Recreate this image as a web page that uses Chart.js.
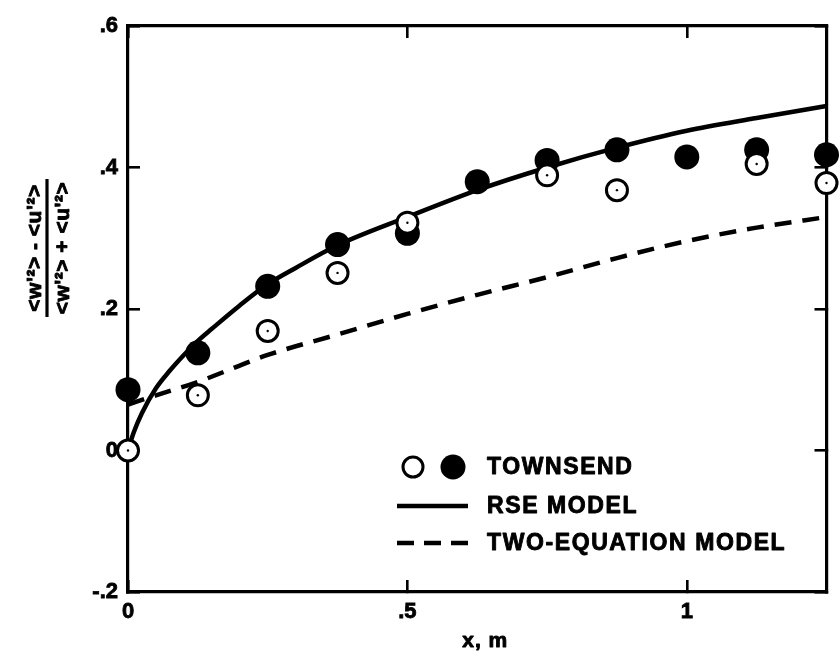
<!DOCTYPE html>
<html>
<head>
<meta charset="utf-8">
<script src="https://cdn.jsdelivr.net/npm/chart.js@4/dist/chart.umd.min.js"></script>
<style>
  html, body { margin: 0; padding: 0; background: #fff; }
  #wrap { width: 840px; height: 659px; position: relative; }
</style>
</head>
<body>
<div id="wrap"><canvas id="c" width="840" height="659"></canvas></div>
<script>
// Streamwise stations, x (m)
const stations = [0, 0.125, 0.25, 0.375, 0.5, 0.625, 0.75, 0.875, 1.0, 1.125, 1.25];
// Townsend measurements (two sets: filled and open symbols)
const townsendFilled = [0.086, 0.138, 0.232, 0.291, 0.307, 0.380, 0.410, 0.425, 0.415, 0.425, 0.418];
const townsendOpen   = [0.000, 0.078, 0.169, 0.251, 0.322, null, 0.389, 0.368, null, 0.405, 0.378];

// RSE model prediction
const rseX = [0, 0.01, 0.025, 0.05, 0.075, 0.1, 0.125, 0.15, 0.2, 0.25, 0.3, 0.375, 0.5, 0.625, 0.75, 0.875, 1.0, 1.125, 1.25];
const rseY = [0, 0.025, 0.053, 0.088, 0.113, 0.135, 0.155, 0.172, 0.205, 0.235, 0.258, 0.290, 0.330, 0.368, 0.400, 0.428, 0.452, 0.470, 0.487];

// Two-equation model prediction
const twoEqX = [0, 0.05, 0.125, 0.25, 0.375, 0.5, 0.625, 0.75, 0.875, 1.0, 1.125, 1.25];
const twoEqY = [0.065, 0.078, 0.097, 0.135, 0.164, 0.193, 0.220, 0.245, 0.272, 0.296, 0.315, 0.330];

// Axis ticks
const xTickValues = [0, 0.5, 1];
const xTickLabels = ['0', '.5', '1'];
const yTickValues = [-0.2, 0, 0.2, 0.4, 0.6];
const yTickLabels = ['-.2', '0', '.2', '.4', '.6'];

const seriesNames = ['TOWNSEND', 'RSE MODEL', 'TWO-EQUATION MODEL'];
const xTitle = 'x, m';
const yTitleTop = "<w'\u00B2> - <u'\u00B2>";
const yTitleBottom = "<w'\u00B2> + <u'\u00B2>";

const pts = (xs, ys) => xs.map((x, i) => ({ x: x, y: ys[i] })).filter(p => p.y !== null);

const FONT = '"Liberation Sans", Arial, sans-serif';
const INK = '#000';

// heavy lettering: fill plus a thin outline
function heavyText(ctx, text, x, y, w) {
  ctx.lineWidth = w;
  ctx.lineJoin = 'round';
  ctx.strokeText(text, x, y);
  ctx.fillText(text, x, y);
}

// In-plot key and axis titles
const annotPlugin = {
  id: 'annot',
  afterDraw(chart) {
    const { ctx, chartArea: a } = chart;
    ctx.save();
    ctx.fillStyle = INK;
    ctx.strokeStyle = INK;

    ctx.font = 'bold 23px ' + FONT;
    ctx.letterSpacing = '1.6px';
    ctx.textBaseline = 'middle';
    ctx.textAlign = 'left';
    const tx = 487;
    const rows = [467, 506, 543];
    ctx.lineWidth = 3;
    ctx.fillStyle = '#fff';
    ctx.beginPath(); ctx.arc(413, rows[0], 10, 0, Math.PI * 2); ctx.fill(); ctx.stroke();
    ctx.fillStyle = INK;
    ctx.beginPath(); ctx.arc(453, rows[0], 12.5, 0, Math.PI * 2); ctx.fill();
    heavyText(ctx, seriesNames[0], tx, rows[0] + 1, 0.9);
    ctx.lineWidth = 4.5;
    ctx.beginPath(); ctx.moveTo(397, rows[1]); ctx.lineTo(468, rows[1]); ctx.stroke();
    heavyText(ctx, seriesNames[1], tx, rows[1] + 1, 0.9);
    ctx.lineWidth = 4.5;
    ctx.setLineDash([17, 10]);
    ctx.beginPath(); ctx.moveTo(397, rows[2]); ctx.lineTo(468, rows[2]); ctx.stroke();
    ctx.setLineDash([]);
    heavyText(ctx, seriesNames[2], tx, rows[2] + 1, 0.9);

    ctx.letterSpacing = '1px';
    ctx.font = 'bold 21px ' + FONT;
    ctx.textAlign = 'center';
    heavyText(ctx, xTitle, (a.left + a.right) / 2 + 8, 641, 0.9);

    ctx.letterSpacing = '0.5px';
    ctx.translate(47, 248);
    ctx.rotate(-Math.PI / 2);
    ctx.font = 'bold 21px ' + FONT;
    ctx.textAlign = 'center';
    ctx.textBaseline = 'alphabetic';
    heavyText(ctx, yTitleTop, 0, -6, 0.9);
    ctx.textBaseline = 'top';
    heavyText(ctx, yTitleBottom, 0, 6, 0.9);
    ctx.lineWidth = 3.2;
    ctx.beginPath(); ctx.moveTo(-69, 0); ctx.lineTo(69, 0); ctx.stroke();
    ctx.restore();
  }
};

const tickFont = { family: FONT, size: 22, weight: 'bold' };

// frame side: solid border plus short inward tick marks
const TICK_IN = 12;
const frameBorder = { display: true, color: INK, width: 3.2 };
const inwardGrid = {
  display: true, drawOnChartArea: false, drawTicks: true,
  tickLength: -TICK_IN, tickWidth: 2.6, tickColor: INK, color: INK, lineWidth: 2.6
};
const setXTicks = s => { s.ticks = xTickValues.map(v => ({ value: v })); };
const setYTicks = s => { s.ticks = yTickValues.map(v => ({ value: v })); };

new Chart(document.getElementById('c'), {
  type: 'scatter',
  data: {
    datasets: [
      {
        label: seriesNames[1],
        data: pts(rseX, rseY),
        showLine: true,
        borderColor: INK,
        borderWidth: 4.5,
        pointRadius: 0,
        cubicInterpolationMode: 'monotone',
        order: 4
      },
      {
        label: seriesNames[2],
        data: pts(twoEqX, twoEqY),
        showLine: true,
        borderColor: INK,
        borderWidth: 4.5,
        borderDash: [17, 11],
        borderCapStyle: 'butt',
        pointRadius: 0,
        cubicInterpolationMode: 'monotone',
        order: 3
      },
      {
        label: seriesNames[0],
        data: pts(stations, townsendFilled),
        showLine: false,
        clip: false,
        pointRadius: 12.5,
        pointBackgroundColor: INK,
        pointBorderColor: INK,
        pointBorderWidth: 0,
        order: 2
      },
      {
        label: seriesNames[0] + ' (open)',
        data: pts(stations, townsendOpen),
        showLine: false,
        clip: false,
        pointRadius: 10.5,
        pointBackgroundColor: '#fff',
        pointBorderColor: INK,
        pointBorderWidth: 3,
        order: 1
      },
      {
        label: seriesNames[0] + ' (centre)',
        data: pts(stations, townsendOpen),
        showLine: false,
        clip: false,
        pointRadius: 1.2,
        pointBackgroundColor: INK,
        pointBorderWidth: 0,
        order: 0
      }
    ]
  },
  options: {
    responsive: false,
    animation: false,
    layout: { padding: { top: 26, right: 8, left: 0, bottom: 0 } },
    plugins: { legend: { display: false }, tooltip: { enabled: false } },
    scales: {
      x: {
        type: 'linear', position: 'bottom',
        min: 0, max: 1.25,
        grid: inwardGrid,
        border: frameBorder,
        afterBuildTicks: setXTicks,
        afterFit: s => { s.height = 67; s.paddingLeft = 0; s.paddingRight = 0; },
        ticks: {
          color: INK, font: tickFont, padding: 7 + TICK_IN, maxRotation: 0,
          textStrokeColor: INK, textStrokeWidth: 0.8,
          callback: v => xTickLabels[xTickValues.indexOf(v)]
        }
      },
      xTop: {
        type: 'linear', position: 'top',
        min: 0, max: 1.25,
        grid: inwardGrid,
        border: frameBorder,
        afterBuildTicks: setXTicks,
        afterFit: s => { s.height = 0; s.paddingLeft = 0; s.paddingRight = 0; },
        ticks: { display: false }
      },
      y: {
        type: 'linear', position: 'left',
        min: -0.2, max: 0.6,
        grid: inwardGrid,
        border: frameBorder,
        afterBuildTicks: setYTicks,
        afterFit: s => { s.width = 128; s.paddingTop = 0; s.paddingBottom = 0; },
        ticks: {
          color: INK, font: tickFont, padding: 10 + TICK_IN,
          textStrokeColor: INK, textStrokeWidth: 0.8,
          callback: v => yTickLabels[yTickValues.findIndex(t => Math.abs(t - v) < 1e-9)]
        }
      },
      yRight: {
        type: 'linear', position: 'right',
        min: -0.2, max: 0.6,
        grid: inwardGrid,
        border: frameBorder,
        afterBuildTicks: setYTicks,
        afterFit: s => { s.width = 0; s.paddingTop = 0; s.paddingBottom = 0; },
        ticks: { display: false }
      }
    }
  },
  plugins: [annotPlugin]
});
</script>
</body>
</html>
